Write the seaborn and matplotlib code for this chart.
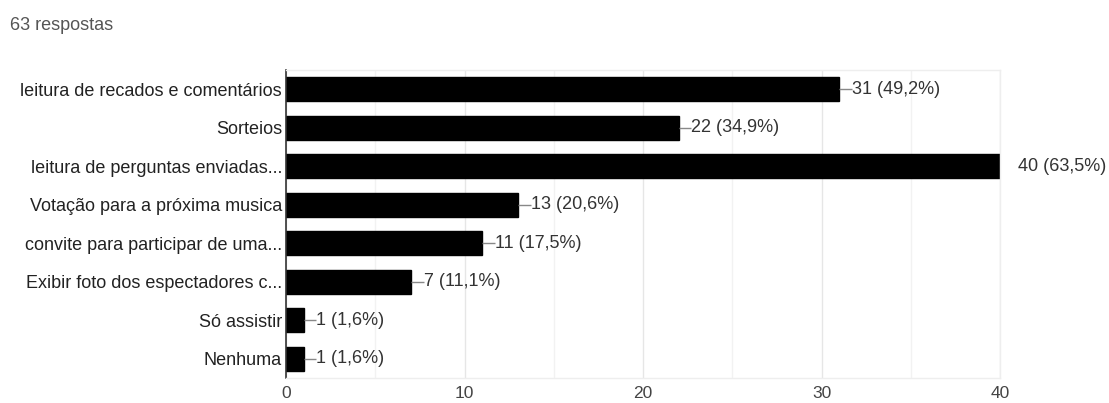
import matplotlib
matplotlib.use("Agg")
import matplotlib.pyplot as plt
import seaborn as sns
import pandas as pd

categories = [
    "leitura de recados e comentários",
    "Sorteios",
    "leitura de perguntas enviadas...",
    "Votação para a próxima musica",
    "convite para participar de uma...",
    "Exibir foto dos espectadores c...",
    "Só assistir",
    "Nenhuma",
]
counts = [31, 22, 40, 13, 11, 7, 1, 1]
percents = ["49,2%", "34,9%", "63,5%", "20,6%", "17,5%", "11,1%", "1,6%", "1,6%"]
x_ticks = [0, 10, 20, 30, 40]
total_label = "63 respostas"

sns.set_theme(style="white")
plt.rcParams["font.family"] = ["Liberation Sans", "DejaVu Sans"]

df = pd.DataFrame({"categoria": categories, "respostas": counts})

fig = plt.figure(figsize=(11.09, 4.03), dpi=100)
ax = fig.add_axes([0.258, 0.062, 0.6437, 0.764])

sns.barplot(data=df, x="respostas", y="categoria", color="black",
            saturation=1, width=0.62, ax=ax, orient="h", edgecolor="black")

FS = 13

ax.set_xlim(0, 40)
ax.set_ylim(7.5, -0.5)
ax.set_xticks(x_ticks)
ax.set_xticks([5, 15, 25, 35], minor=True)
ax.grid(True, axis="x", which="major", color="#e6e6e6", linewidth=1)
ax.grid(True, axis="x", which="minor", color="#f2f2f2", linewidth=1)
ax.set_axisbelow(True)
ax.set_xlabel("")
ax.set_ylabel("")
ax.tick_params(axis="x", labelsize=12.5, colors="#444444", length=0, pad=6)
ax.tick_params(axis="y", labelsize=FS, colors="#222222", length=0, pad=3)

for side in ["top", "right", "bottom"]:
    ax.spines[side].set_color("#eeeeee")
    ax.spines[side].set_linewidth(1)
ax.spines["left"].set_color("#333333")
ax.spines["left"].set_linewidth(1.2)

xmax = ax.get_xlim()[1]
for i, (c, p) in enumerate(zip(counts, percents)):
    label = f"{c} ({p})"
    if c >= xmax:
        ax.text(c + 1.0, i, label, va="center", ha="left", fontsize=FS,
                color="#333333", clip_on=False)
    else:
        ax.plot([c, c + 0.7], [i, i], color="#888888", linewidth=1,
                solid_capstyle="butt")
        ax.text(c + 0.7, i, label, va="center", ha="left", fontsize=FS,
                color="#333333")

fig.text(10 / 1109, 1 - 25 / 403, total_label, fontsize=13, color="#555555",
         va="center", ha="left")

fig.savefig("out.png", dpi=100, facecolor="white")
